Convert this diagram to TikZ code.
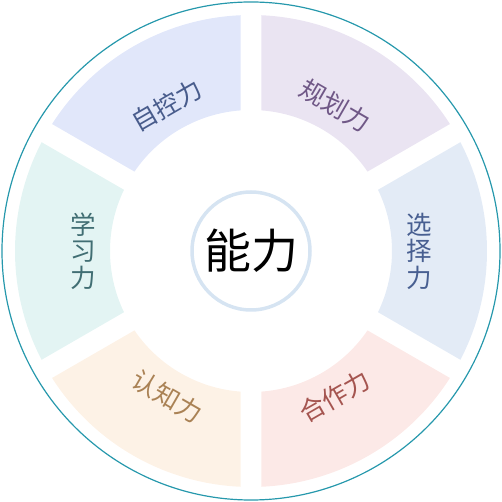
\documentclass[tikz,border=0pt]{standalone}
\usepackage{fontspec}
\setmainfont{Noto Sans CJK SC}
\definecolor{ring}{RGB}{38,152,172}
\definecolor{hub}{RGB}{214,228,242}
\definecolor{zikong}{RGB}{225,231,250}
\definecolor{zikongtxt}{RGB}{72,92,140}
\definecolor{guihua}{RGB}{234,228,242}
\definecolor{guihuatxt}{RGB}{112,88,135}
\definecolor{xuanze}{RGB}{227,235,246}
\definecolor{xuanzetxt}{RGB}{72,95,145}
\definecolor{hezuo}{RGB}{252,233,231}
\definecolor{hezuotxt}{RGB}{165,85,80}
\definecolor{renzhi}{RGB}{253,242,230}
\definecolor{renzhitxt}{RGB}{170,130,85}
\definecolor{xuexi}{RGB}{227,244,243}
\definecolor{xuexitxt}{RGB}{65,110,115}

\begin{document}
\begin{tikzpicture}[x=1pt, y=1pt,
    lbl/.style={font=\fontsize{25.5}{26.5}\selectfont, align=center, inner sep=0pt},
    core/.style={circle, draw=hub, line width=3.5pt, minimum size=118pt, inner sep=0pt,
      font=\fontsize{47}{47}\selectfont}]

    \useasboundingbox (-251,-251) rectangle (251,251);
    \draw[ring, line width=1.2pt] (0,0) circle[radius=249];

    % six ring segments, gaps kept parallel
    \foreach \a/\fc/\tc/\txt/\rot/\nm in {
        90/zikong/zikongtxt/自控力/30/zk,
        30/guihua/guihuatxt/规划力/-30/gh,
        -30/xuanze/xuanzetxt/选\\择\\力/0/xz,
        -90/hezuo/hezuotxt/合作力/30/hz,
        -150/renzhi/renzhitxt/认知力/-30/rz,
        150/xuexi/xuexitxt/学\\习\\力/0/xx}{
      \fill[\fc] (\a+2.55:236) arc[start angle=\a+2.55, end angle=\a+57.45, radius=236]
        -- (\a+55.73:141) arc[start angle=\a+55.73, end angle=\a+4.27, radius=141] -- cycle;
      \node[lbl, text=\tc, rotate=\rot] (\nm) at (\a+30:168) {\txt};
    }

    \node[core] (ability) at (0,0) {能力};
\end{tikzpicture}
\end{document}
